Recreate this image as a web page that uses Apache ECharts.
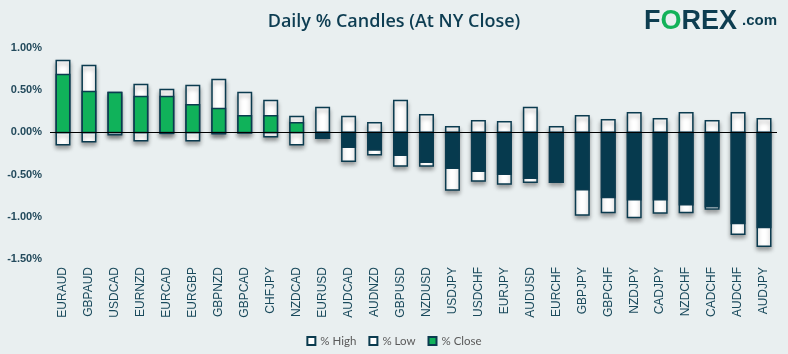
<!DOCTYPE html>
<html>
<head>
<meta charset="utf-8">
<script src="https://cdn.jsdelivr.net/npm/echarts@6/dist/echarts.min.js"></script>
<style>
  html, body { margin: 0; padding: 0; background: #e9eff0; }
  #chart { width: 788px; height: 354px; }
</style>
</head>
<body>
<div id="chart"></div>
<script>
// pares de divisas ordenados por cierre
var pairs = ["EURAUD", "GBPAUD", "USDCAD", "EURNZD", "EURCAD", "EURGBP", "GBPNZD", "GBPCAD", "CHFJPY", "NZDCAD",
  "EURUSD", "AUDCAD", "AUDNZD", "GBPUSD", "NZDUSD", "USDJPY", "USDCHF", "EURJPY", "AUDUSD", "EURCHF",
  "GBPJPY", "GBPCHF", "NZDJPY", "CADJPY", "NZDCHF", "CADCHF", "AUDCHF", "AUDJPY"];
var highs = [0.853, 0.794, 0.472, 0.567, 0.508, 0.556, 0.627, 0.472, 0.377, 0.187,
  0.294, 0.187, 0.115, 0.377, 0.210, 0.067, 0.139, 0.127, 0.294, 0.067,
  0.198, 0.151, 0.234, 0.163, 0.234, 0.139, 0.234, 0.163];
var lows = [-0.147, -0.111, -0.028, -0.099, -0.012, -0.099, -0.016, -0.005, -0.052, -0.147,
  -0.068, -0.341, -0.266, -0.397, -0.397, -0.683, -0.575, -0.611, -0.591, -0.591,
  -0.980, -0.948, -1.008, -0.956, -0.948, -0.909, -1.206, -1.349];
var closes = [0.687, 0.484, 0.472, 0.425, 0.425, 0.329, 0.282, 0.198, 0.198, 0.115,
  -0.068, -0.175, -0.210, -0.270, -0.353, -0.425, -0.460, -0.496, -0.544, -0.591,
  -0.679, -0.770, -0.798, -0.798, -0.857, -0.881, -1.079, -1.127];

var borde = "#0b3b4f";
var verde = "#10b25a";
var oscuro = "#063a4e";

// rectangulo de 0 al valor, usando las escalas del grafico
function caja(fill, sombra) {
  return function (params, api) {
    var i = api.value(0);
    var v = api.value(1);
    var p0 = api.coord([i, 0]);
    var p1 = api.coord([i, v]);
    var w = api.size([1, 0])[0] * 0.52;
    var y = Math.min(p0[1], p1[1]);
    var h = Math.abs(p1[1] - p0[1]);
    var style = {
      fill: typeof fill === "function" ? fill(v) : fill,
      stroke: borde,
      lineWidth: 1.5
    };
    if (sombra) {
      style.shadowBlur = 4;
      style.shadowOffsetY = 3;
      style.shadowColor = "rgba(0,0,0,0.35)";
    }
    return { type: "rect", shape: { x: p0[0] - w / 2, y: y, width: w, height: h }, style: style };
  };
}

var option = {
  backgroundColor: "#e9eff0",
  animation: false,
  title: {
    text: "Daily % Candles (At NY Close)",
    left: "center",
    top: 8,
    textStyle: { fontFamily: "Open Sans", fontSize: 18, fontWeight: 600, color: "#0d3d52" }
  },
  graphic: [
    {
      type: "text", x: 644, y: 22,
      style: {
        text: "{a|F}{b|O}{a|REX}",
        verticalAlign: "middle",
        rich: {
          a: { fontFamily: "Liberation Sans", fontWeight: "bold", fontSize: 27, fill: "#0d3d50" },
          b: { fontFamily: "Liberation Sans", fontWeight: "bold", fontSize: 27, fill: "#13b259" }
        }
      }
    },
    {
      type: "text", x: 742, y: 21,
      style: { text: ".com", verticalAlign: "middle", fontFamily: "Liberation Sans", fontWeight: "bold", fontSize: 15, fill: "#0d3d50" }
    }
  ],
  legend: {
    top: 330,
    left: "center",
    icon: "rect",
    itemWidth: 8,
    itemHeight: 8,
    itemGap: 12,
    textStyle: { fontFamily: "Lato", fontSize: 11.5, color: "#5a5a5a" },
    data: ["% High", "% Low", "% Close"]
  },
  grid: { left: 50, right: 11, top: 48, bottom: 95, containLabel: false },
  xAxis: {
    type: "category",
    data: pairs,
    axisLine: { show: false, onZero: false },
    axisTick: { show: false },
    axisLabel: { rotate: 90, margin: 8, fontFamily: "Liberation Sans", fontSize: 12, color: "#1a4a5c", interval: 0 }
  },
  yAxis: {
    type: "value",
    min: -1.5,
    max: 1.0,
    interval: 0.5,
    splitLine: { show: false },
    axisLine: { show: false },
    axisTick: { show: false },
    axisLabel: {
      margin: 8,
      fontFamily: "Liberation Sans", fontSize: 11, fontWeight: "bold", color: "#234a5c",
      formatter: function (v) { return v.toFixed(2) + "%"; }
    }
  },
  series: [
    {
      name: "% High",
      type: "custom",
      renderItem: caja("#ffffff", true),
      itemStyle: { color: "#ffffff", borderColor: borde, borderWidth: 1.2 },
      encode: { x: 0, y: 1 },
      data: highs.map(function (v, i) { return [i, v]; })
    },
    {
      name: "% Low",
      type: "custom",
      renderItem: caja("#ffffff", true),
      itemStyle: { color: "#ffffff", borderColor: borde, borderWidth: 1.2 },
      encode: { x: 0, y: 1 },
      data: lows.map(function (v, i) { return [i, v]; })
    },
    {
      name: "% Close",
      type: "custom",
      renderItem: caja(function (v) { return v >= 0 ? verde : oscuro; }, false),
      itemStyle: { color: verde, borderColor: borde, borderWidth: 1.2 },
      encode: { x: 0, y: 1 },
      data: closes.map(function (v, i) { return [i, v]; }),
      markLine: {
        silent: true,
        symbol: "none",
        label: { show: false },
        lineStyle: { color: "#000", width: 1.2, type: "solid" },
        data: [{ yAxis: 0 }]
      }
    }
  ]
};

var chartDom = document.getElementById("chart");
var myChart = echarts.init(chartDom);
myChart.setOption(option);
</script>
</body>
</html>
